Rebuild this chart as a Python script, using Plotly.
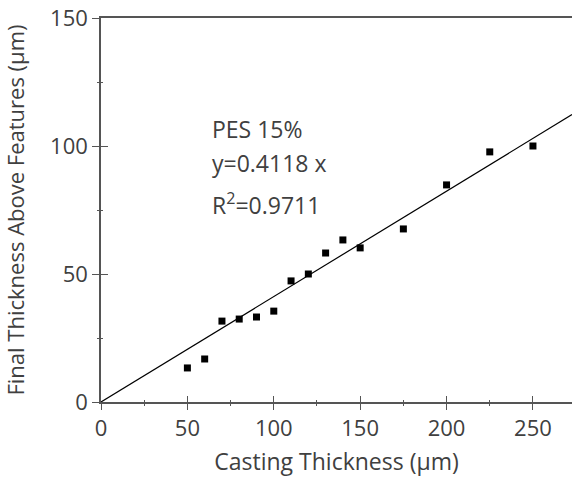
import plotly.graph_objects as go

casting = [50, 60, 70, 80, 90, 100, 110, 120, 130, 140, 150, 175, 200, 225, 250]
final = [13.3, 16.8, 31.6, 32.4, 33.2, 35.5, 47.3, 50.0, 58.2, 63.3, 60.2, 67.6, 84.8, 97.7, 100.0]
slope = 0.4118
fit_x = [0, 272.6]
fit_y = [slope * v for v in fit_x]

x_ticks = [0, 50, 100, 150, 200, 250]
y_ticks = [0, 50, 100, 150]
x_range = [0, 272.6]
y_range = [0, 150]

FONT = "Open Sans"
TXT = "#404040"
AX = "#555555"

fig = go.Figure()
fig.add_trace(go.Scatter(x=fit_x, y=fit_y, mode="lines",
                         line=dict(color="black", width=1.2), showlegend=False, hoverinfo="skip"))
fig.add_trace(go.Scatter(x=casting, y=final, mode="markers",
                         marker=dict(symbol="square", size=7, color="black"), showlegend=False))
# invisible trace to anchor the inside-tick overlay axes
fig.add_trace(go.Scatter(x=[0], y=[0], xaxis="x2", yaxis="y2", mode="markers",
                         marker=dict(opacity=0), showlegend=False, hoverinfo="skip"))

tick_font = dict(family=FONT, size=22, color=TXT)
title_font = dict(family=FONT, size=23, color=TXT)

fig.update_layout(
    width=572, height=480,
    margin=dict(l=101, r=0, t=18, b=78),
    plot_bgcolor="white", paper_bgcolor="white",
    font=tick_font,
    xaxis=dict(range=x_range, tickvals=x_ticks, ticks="outside", ticklen=6, tickwidth=1,
               tickcolor=AX, showline=True, linecolor=AX, linewidth=1.5, mirror=True,
               showgrid=False, zeroline=False, tickfont=tick_font, ticklabeloverflow="allow",
               minor=dict(dtick=25, ticks="outside", ticklen=2, tickcolor=AX),
               title=dict(text="Casting Thickness (µm)", font=title_font, standoff=13)),
    yaxis=dict(range=y_range, tickvals=y_ticks, ticks="outside", ticklen=7, tickwidth=1,
               tickcolor=AX, showline=True, linecolor=AX, linewidth=1.5, mirror=False,
               showgrid=False, zeroline=False, tickfont=tick_font, ticklabeloverflow="allow",
               minor=dict(dtick=25, ticks="outside", ticklen=2, tickcolor=AX),
               title=dict(text="Final Thickness Above Features (µm)", font=tick_font, standoff=28)),
    xaxis2=dict(range=x_range, overlaying="x", tickvals=x_ticks, ticks="inside", ticklen=6,
                tickwidth=1, tickcolor=AX, showticklabels=False, showline=False,
                showgrid=False, zeroline=False,
                minor=dict(dtick=25, ticks="inside", ticklen=2, tickcolor=AX)),
    yaxis2=dict(range=y_range, overlaying="y", tickvals=y_ticks, ticks="inside", ticklen=7,
                tickwidth=1, tickcolor=AX, showticklabels=False, showline=False,
                showgrid=False, zeroline=False,
                minor=dict(dtick=25, ticks="inside", ticklen=2, tickcolor=AX)),
)

labels = ["PES 15%", "y=0.4118 x", "R<sup>2</sup>=0.9711"]
label_y = [106.5, 93.5, 77.5]
for t, yy in zip(labels, label_y):
    fig.add_annotation(x=63.0, y=yy, text=t, showarrow=False, xanchor="left", yanchor="middle",
                       font=dict(family=FONT, size=23, color=TXT))

fig.write_html(
    "out.html",
    config={"displayModeBar": False},
    post_script="document.body.style.margin='0px';document.body.style.overflow='hidden';",
)
